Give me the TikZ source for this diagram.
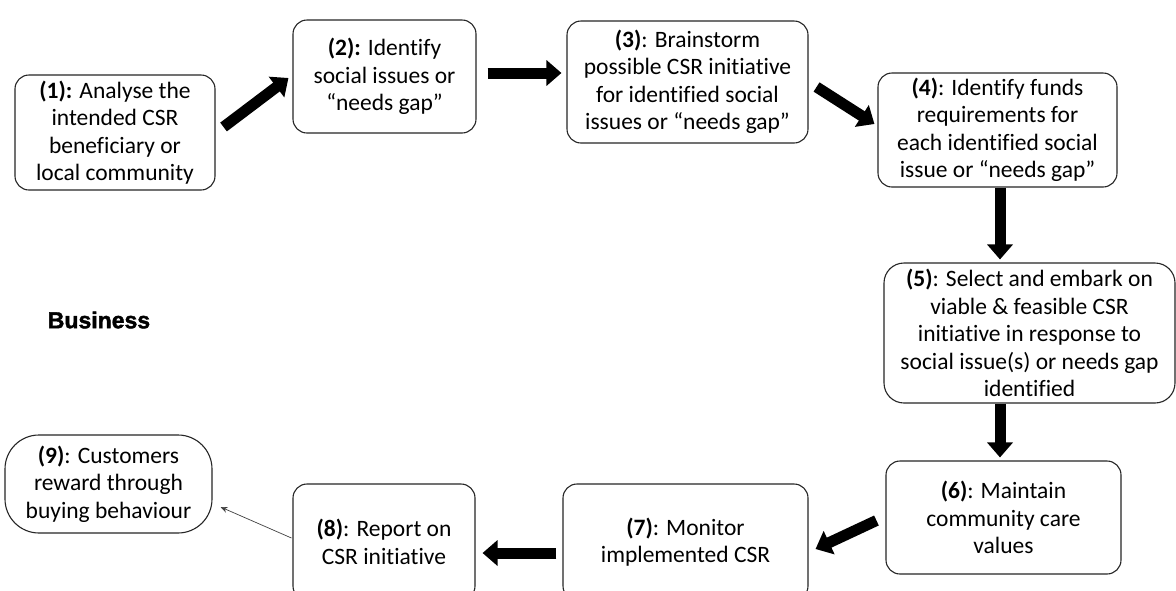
\documentclass[tikz,border=0pt]{standalone}
\usepackage{fontspec}
\setmainfont{Carlito}[Ligatures={NoCommon}]
\newfontfamily\bizfont[BoldFeatures={FakeBold=1.8}]{Liberation Sans}
\usetikzlibrary{arrows.meta,calc}
\tikzset{
  box/.style={draw=black!85, line width=1.1pt, rounded corners=14pt, align=center,
    inner sep=0pt, font=\fontsize{23.5}{27.5}\selectfont},
  bigarrow/.style={-{Triangle[width=25pt,length=15pt]}, line width=11pt},
  thinarrow/.style={-{Stealth[width=6pt,length=7pt]}, line width=0.7pt, draw=black!75}
}
\begin{document}
\begin{tikzpicture}[x=1pt,y=-1pt]
\useasboundingbox (0,0) rectangle (1176,590);
\clip (0,0) rectangle (1176,590);
\fill[white] (0,0) rectangle (1176,590);

\node[box, minimum width=200pt, minimum height=115pt] (b1) at (115,132.5)
  {\textbf{(1):} Analyse the\\intended CSR\\beneficiary or\\local community};
\node[box, minimum width=183pt, minimum height=113pt] (b2) at (384.5,76.5)
  {\textbf{(2):} Identify\\social issues or\\“needs gap”};
\node[box, minimum width=241pt, minimum height=122pt] (b3) at (687.5,82)
  {\textbf{(3)}: Brainstorm\\possible CSR initiative\\for identified social\\issues or “needs gap”};
\node[box, minimum width=239pt, minimum height=114pt] (b4) at (997.5,130)
  {\textbf{(4)}: Identify funds\\requirements for\\each identified social\\issue or “needs gap”};
\node[box, rounded corners=20pt, minimum width=291pt, minimum height=140pt] (b5) at (1029.5,333)
  {\textbf{(5)}: Select and embark on\\viable \& feasible CSR\\initiative in response to\\social issue(s) or needs gap\\identified};
\node[box, minimum width=235pt, minimum height=113pt] (b6) at (1003.5,517.5)
  {\textbf{(6)}: Maintain\\community care\\values};
\node[box, minimum width=245pt, minimum height=116pt] (b7) at (685.5,542)
  {\textbf{(7)}: Monitor\\implemented CSR};
\node[box, minimum width=182pt, minimum height=116pt] (b8) at (384,542)
  {\textbf{(8)}: Report on\\CSR initiative};
\node[box, rounded corners=34pt, minimum width=207pt, minimum height=98pt] (b9) at (108.5,484)
  {\textbf{(9)}: Customers\\reward through\\buying behaviour};

\node (biz) at (99,320) {\bizfont\bfseries\fontsize{23}{27}\selectfont Business};

\draw[bigarrow] ($(b1.east)+(8,-5.5)$) -- ($(b2.west)+(-4,1.5)$);
\draw[bigarrow] ($(b2.east)+(11,-3.5)$) -- ($(b3.west)+(-5,-9)$);
\draw[bigarrow] ($(b3.east)+(8,5)$) -- ($(b4.west)+(-3,-6)$);
\draw[bigarrow] ($(b4.south)+(2.5,0)$) -- ($(b5.north)+(-29.5,-3)$);
\draw[bigarrow] ($(b5.south)+(-29.5,0)$) -- ($(b6.north)+(-3.5,-3)$);
\draw[bigarrow] ($(b6.west)+(-9,3)$) -- ($(b7.east)+(7,7)$);
\draw[bigarrow] ($(b7.west)+(-6,11)$) -- ($(b8.east)+(7,11)$);
\draw[thinarrow] ($(b8.west)+(-1,-4)$) -- ($(b9.east)+(8,23)$);
\end{tikzpicture}
\end{document}
